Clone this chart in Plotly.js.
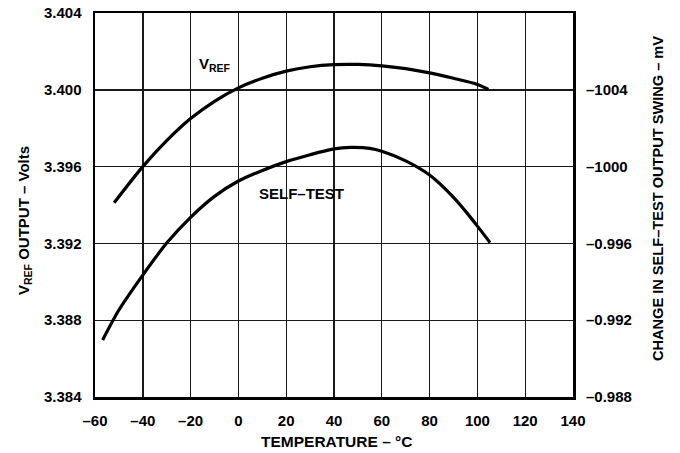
<!DOCTYPE html>
<html>
<head>
<meta charset="utf-8">
<script src="https://cdn.plot.ly/plotly-3.0.1.min.js"></script>
<style>html,body{margin:0;padding:0;background:#fff;}#chart{width:680px;height:453px;}</style>
</head>
<body>
<div id="chart"></div>
<script>
// Temperature (°C) and V_REF output (V)
const vrefTemp = [-52, -40, -30, -20, -10, 0, 10, 20, 30, 40, 50, 60, 70, 80, 90, 100, 104.6];
const vrefVolt = [3.39412, 3.3960, 3.39735, 3.39850, 3.39940, 3.40010, 3.40060, 3.40097, 3.40120, 3.40131, 3.40132, 3.40125, 3.40110, 3.40088, 3.40060, 3.40028, 3.40002];
// Temperature (°C) and self-test curve (plotted on the same scale)
const selfTemp = [-56.8, -50, -40, -30, -20, -10, 0, 10, 20, 30, 40, 47, 55, 60, 70, 80, 90, 95, 100, 105.3];
const selfVolt = [3.38697, 3.38853, 3.39035, 3.39202, 3.39336, 3.39445, 3.39525, 3.39580, 3.39626, 3.39662, 3.39692, 3.39700, 3.39695, 3.39680, 3.39630, 3.39556, 3.39440, 3.39368, 3.39290, 3.39204];

const xTickVals = [-60, -40, -20, 0, 20, 40, 60, 80, 100, 120, 140];
const xTickText = ['–60', '–40', '–20', '0', '20', '40', '60', '80', '100', '120', '140'];
const yTickVals = [3.384, 3.388, 3.392, 3.396, 3.400, 3.404];
const yTickText = ['3.384', '3.388', '3.392', '3.396', '3.400', '3.404'];
const y2TickVals = [3.384, 3.388, 3.392, 3.396, 3.400];
const y2TickText = ['–0.988', '–0.992', '–0.996', '–1000', '–1004'];

const xTitle = 'TEMPERATURE – °C';
const yTitle = 'V<sub>REF</sub> OUTPUT – Volts';
const y2Title = 'CHANGE IN SELF–TEST OUTPUT SWING – mV';

const FONT = 'Liberation Sans, Arial, Helvetica, sans-serif';
const bold = s => '<b>' + s + '</b>';
const lineStyle = {color: '#000', width: 3.2, shape: 'spline', smoothing: 0.8};
const tf = {family: FONT, size: 15, color: '#000'};

const data = [
  {x: vrefTemp, y: vrefVolt, mode: 'lines', line: lineStyle, hoverinfo: 'skip', showlegend: false},
  {x: selfTemp, y: selfVolt, yaxis: 'y2', mode: 'lines', line: lineStyle, hoverinfo: 'skip', showlegend: false}
];

const axisCommon = {
  showline: true, linecolor: '#000', linewidth: 2.5, mirror: true,
  showgrid: true, gridcolor: '#1a1a1a', gridwidth: 1.4,
  zeroline: false, tickfont: tf
};

const ann = (o) => Object.assign({showarrow: false, xanchor: 'center', yanchor: 'middle'}, o);

const layout = {
  width: 680, height: 453,
  margin: {l: 95, r: 107, t: 13, b: 56},
  paper_bgcolor: '#fff', plot_bgcolor: '#fff',
  xaxis: Object.assign({}, axisCommon, {
    range: [-60, 140], tickmode: 'array', tickvals: xTickVals, ticktext: xTickText.map(bold),
    ticklen: 8, tickcolor: 'rgba(0,0,0,0)', ticks: 'outside'
  }),
  yaxis: Object.assign({}, axisCommon, {
    range: [3.384, 3.404], tickmode: 'array', tickvals: yTickVals, ticktext: yTickText.map(bold),
    ticklen: 8, tickcolor: 'rgba(0,0,0,0)', ticks: 'outside'
  }),
  yaxis2: {
    overlaying: 'y', side: 'right', range: [3.384, 3.404],
    tickmode: 'array', tickvals: y2TickVals, ticktext: y2TickText.map(bold),
    showgrid: false, zeroline: false, showline: false,
    ticks: 'outside', ticklen: 9, tickcolor: 'rgba(0,0,0,0)',
    tickfont: tf
  },
  annotations: [
    ann({x: -10, y: 3.4013, xref: 'x', yref: 'y', text: bold('V<sub>REF</sub>'),
     font: {family: FONT, size: 15, color: '#000'}}),
    ann({x: 26.5, y: 3.3946, xref: 'x', yref: 'y', text: bold('SELF–TEST'),
     font: {family: FONT, size: 15, color: '#000'}}),
    ann({x: 0.505, y: -0.1146, xref: 'paper', yref: 'paper', text: bold(xTitle),
     font: {family: FONT, size: 15.5, color: '#000'}}),
    ann({x: -0.1485, y: 0.4583, xref: 'paper', yref: 'paper', text: bold(yTitle), textangle: -90,
     font: {family: FONT, size: 15, color: '#000'}}),
    ann({x: 1.1778, y: 0.518, xref: 'paper', yref: 'paper', text: bold(y2Title), textangle: -90,
     font: {family: FONT, size: 14.6, color: '#000'}})
  ]
};

Plotly.newPlot('chart', data, layout, {staticPlot: true, displayModeBar: false});
</script>
</body>
</html>
